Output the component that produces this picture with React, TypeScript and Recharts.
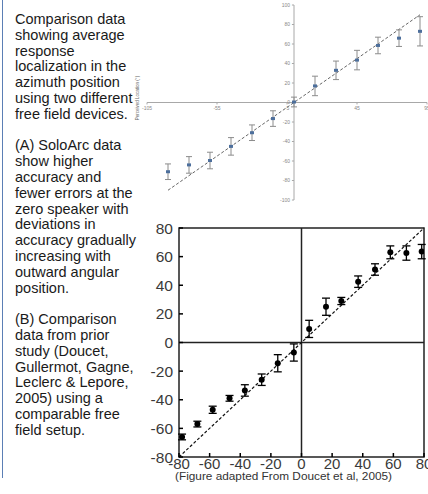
import {
  ScatterChart,
  Scatter,
  XAxis,
  YAxis,
  ZAxis,
  ErrorBar,
  ReferenceLine,
  ReferenceDot,
  ReferenceArea,
} from "recharts";

// (A) SoloArc
const speakerA = [-90, -75, -60, -45, -30, -15, 0, 15, 30, 45, 60, 75, 90];
const responseA = [-71, -64, -59.5, -45, -31, -16.5, 0.5, 17, 33, 43.5, 58.5, 66, 73];
const errorA = [8, 8.5, 8.5, 9, 8, 8, 5, 10, 9.5, 10, 8.5, 8.5, 15];
const xTicksA = [-105, -55, -5, 45, 95];
const yTicksA = [-100, -80, -60, -40, -20, 0, 20, 40, 60, 80, 100];

// (B) Doucet et al, 2005
const speakerB = [-78, -68, -58, -47, -37, -26, -15.5, -5, 5, 16, 26, 37, 48, 58, 68.5, 78.5];
const responseB = [-66, -57, -47, -39, -33.5, -26, -14.5, -7, 9.5, 25, 29, 42.5, 51, 63, 62.5, 63.5];
const errorB = [2, 2, 2.5, 2, 4, 4, 6, 6, 6, 6, 2.5, 4, 4, 4.5, 5, 5];
const ticksB = [-80, -60, -40, -20, 0, 20, 40, 60, 80];

const sideText = [
  "Comparison data",
  "showing average",
  "response",
  "localization in the",
  "azimuth position",
  "using two different",
  "free field devices.",
  "",
  "(A) SoloArc data",
  "show higher",
  "accuracy and",
  "fewer errors at the",
  "zero speaker with",
  "deviations in",
  "accuracy gradually",
  "increasing with",
  "outward angular",
  "position.",
  "",
  "(B) Comparison",
  "data from prior",
  "study (Doucet,",
  "Gullermot, Gagne,",
  "Leclerc & Lepore,",
  "2005) using a",
  "comparable free",
  "field setup.",
];

const dataA = speakerA.map((x, i) => ({ x, y: responseA[i], err: errorA[i] }));
const dataB = speakerB.map((x, i) => ({ x, y: responseB[i], err: errorB[i] }));

const FONT = "'Liberation Sans', Arial, sans-serif";

const SquareMark = (props: any) => (
  <rect x={props.cx - 2} y={props.cy - 1.5} width={4} height={3} fill="#4d6f9c" />
);

const DotMark = (props: any) => <circle cx={props.cx} cy={props.cy} r={3} fill="#000" />;

const App = () => {
  return (
    <div
      style={{
        position: "absolute",
        left: 0,
        top: 0,
        width: 428,
        height: 494,
        background: "#fff",
        fontFamily: FONT,
        overflow: "hidden",
      }}
    >
      <div
        style={{ position: "absolute", left: 2, top: 0, width: 1, height: 478, background: "#5b7fb5" }}
      />
      <div
        style={{
          position: "absolute",
          left: 15,
          top: 12,
          fontSize: 14.5,
          lineHeight: "15.8px",
          color: "#1a1a1a",
          whiteSpace: "pre",
        }}
      >
        {sideText.map((t, i) => (
          <div key={i} style={{ height: 15.8 }}>
            {t}
          </div>
        ))}
      </div>

      {/* chart A */}
      <div style={{ position: "absolute", left: 140, top: 0 }}>
        <ScatterChart width={288} height={220} margin={{ top: 5, right: 1, bottom: 20, left: 7 }}>
          <XAxis type="number" dataKey="x" domain={[-105, 95]} hide allowDataOverflow />
          <YAxis type="number" dataKey="y" domain={[-100, 100]} hide allowDataOverflow />
          <ZAxis range={[20, 20]} />
          <ReferenceLine y={0} stroke="#a8a8a8" strokeWidth={1} />
          <ReferenceLine x={0} stroke="#a8a8a8" strokeWidth={1} />
          {xTicksA.map((t) => (
            <ReferenceLine
              key={"xt" + t}
              segment={[
                { x: t, y: 0 },
                { x: t, y: -2 },
              ]}
              stroke="#a8a8a8"
            />
          ))}
          {yTicksA.map((t) => (
            <ReferenceLine
              key={"yt" + t}
              segment={[
                { x: -1.5, y: t },
                { x: 0, y: t },
              ]}
              stroke="#a8a8a8"
            />
          ))}
          {xTicksA.map((t) => (
            <ReferenceDot
              key={"xl" + t}
              x={t}
              y={0}
              r={0.01}
              stroke="none"
              fill="none"
              label={{ value: t, position: "bottom", offset: 4, fontSize: 5, fill: "#888" }}
            />
          ))}
          {yTicksA.map((t) => (
            <ReferenceDot
              key={"yl" + t}
              x={0}
              y={t}
              r={0.01}
              stroke="none"
              fill="none"
              label={{ value: t, position: "left", offset: 4, fontSize: 5, fill: "#888" }}
            />
          ))}
          <ReferenceLine
            segment={[
              { x: -90, y: -90 },
              { x: 90, y: 90 },
            ]}
            stroke="#666"
            strokeWidth={1}
            strokeDasharray="3 2"
          />
          <Scatter data={dataA} shape={SquareMark} isAnimationActive={false}>
            <ErrorBar dataKey="err" direction="y" width={3} stroke="#8c8c8c" strokeWidth={1} />
          </Scatter>
        </ScatterChart>
      </div>
      <div
        style={{
          position: "absolute",
          left: 137,
          top: 98,
          fontSize: 4.5,
          color: "#666",
          whiteSpace: "nowrap",
          transform: "translate(-50%, -50%) rotate(-90deg)",
          transformOrigin: "center",
        }}
      >
        Perceived Location (°)
      </div>

      {/* chart B */}
      <div style={{ position: "absolute", left: 128, top: 210 }}>
        <ScatterChart width={300} height={270} margin={{ top: 18, right: 4, bottom: 3, left: 11 }}>
          <XAxis
            type="number"
            dataKey="x"
            domain={[-80, 80]}
            ticks={ticksB}
            interval={0}
            height={20}
            axisLine={false}
            tickSize={-4}
            tickMargin={5}
            tickLine={{ stroke: "#000", strokeWidth: 1.5 }}
            tick={{ fontSize: 15, fill: "#3a3a3a", fontFamily: FONT }}
            allowDataOverflow
          />
          <YAxis
            type="number"
            dataKey="y"
            domain={[-80, 80]}
            ticks={ticksB}
            interval={0}
            width={40}
            axisLine={false}
            tickSize={-4}
            tickMargin={10}
            tickLine={{ stroke: "#000", strokeWidth: 1.5 }}
            tick={{ fontSize: 15.5, fill: "#3a3a3a", fontFamily: FONT }}
            allowDataOverflow
          />
          <ZAxis range={[30, 30]} />
          <ReferenceArea x1={-80} x2={80} y1={-80} y2={80} fill="none" stroke="#222" strokeWidth={1.5} />
          <ReferenceLine y={0} stroke="#222" strokeWidth={1.5} />
          <ReferenceLine x={0} stroke="#222" strokeWidth={1.5} />
          <ReferenceLine
            segment={[
              { x: -80, y: -80 },
              { x: 80, y: 80 },
            ]}
            stroke="#111"
            strokeWidth={1.2}
            strokeDasharray="3 2"
          />
          <Scatter data={dataB} shape={DotMark} isAnimationActive={false}>
            <ErrorBar dataKey="err" direction="y" width={4} stroke="#000" strokeWidth={1.3} />
          </Scatter>
        </ScatterChart>
      </div>
      <div
        style={{
          position: "absolute",
          left: 175,
          top: 470,
          fontSize: 11.8,
          lineHeight: "13px",
          color: "#333",
          whiteSpace: "nowrap",
        }}
      >
        (Figure adapted From Doucet et al, 2005)
      </div>
    </div>
  );
};

export default App;
